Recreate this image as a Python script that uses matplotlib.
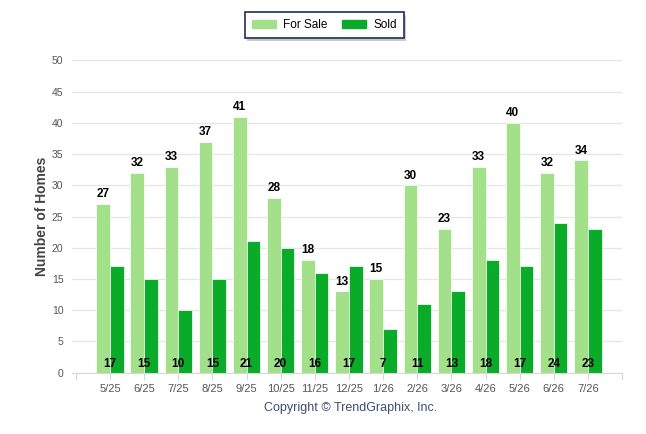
import matplotlib.pyplot as plt
from matplotlib.patches import Patch, Rectangle

plt.rcParams["font.family"] = ["Liberation Sans", "DejaVu Sans"]

# Monthly home counts
months = ["5/25", "6/25", "7/25", "8/25", "9/25", "10/25", "11/25", "12/25",
          "1/26", "2/26", "3/26", "4/26", "5/26", "6/26", "7/26"]
for_sale = [27, 32, 33, 37, 41, 28, 18, 13, 15, 30, 23, 33, 40, 32, 34]
sold = [17, 15, 10, 15, 21, 20, 16, 17, 7, 11, 13, 18, 17, 24, 23]

light = "#a2e08a"
dark = "#0aab28"

fig = plt.figure(figsize=(6.46, 4.34), dpi=100)
ax = fig.add_axes([0.111, 0.1417, 0.852, 0.7189])

x = list(range(len(months)))
w = 0.4
ax.bar([i - w / 2 for i in x], for_sale, width=w, color=light,
       edgecolor="white", linewidth=0.5, zorder=2)
ax.bar([i + w / 2 for i in x], sold, width=w, color=dark,
       edgecolor="white", linewidth=0.5, zorder=2)

for i in x:
    ax.text(i - w / 2, for_sale[i] + 0.6, str(for_sale[i]), ha="center",
            va="bottom", fontsize=8.5, fontweight="bold", color="black", zorder=3)
    ax.text(i, 1.4, str(sold[i]), ha="center", va="center", fontsize=8.5,
            fontweight="bold", color="black", zorder=3)

ax.set_xlim(-1.12, 15)
ax.set_ylim(0, 50)
ax.set_yticks(range(0, 51, 5))
ax.set_xticks(range(-1, 16))
ax.set_xticklabels([""] + months + [""])
ax.tick_params(axis="x", length=5, color="#d8d8d8", labelsize=8,
               labelcolor="#555555", pad=3)
ax.tick_params(axis="y", length=0, labelsize=7.5, labelcolor="#555555", pad=6)
ax.yaxis.grid(True, color="#e6e6e6", linewidth=1, zorder=0)
ax.set_axisbelow(True)
for s in ["top", "right", "left"]:
    ax.spines[s].set_visible(False)
ax.spines["bottom"].set_color("#d8d8d8")

ax.set_ylabel("Number of Homes", fontsize=10, fontweight="bold",
              color="#444444", labelpad=2)

handles = [Patch(color=light, label="For Sale"), Patch(color=dark, label="Sold")]
leg = fig.legend(handles=handles, loc="center", bbox_to_anchor=(0.502, 0.942),
                 ncol=2, frameon=True, fontsize=8.5, fancybox=False,
                 handlelength=2.0, handleheight=0.7, columnspacing=1.3,
                 borderpad=0.6, handletextpad=0.6, framealpha=1,
                 borderaxespad=0)
leg.set_zorder(5)
frame = leg.get_frame()
frame.set_facecolor("white")
frame.set_edgecolor("#1f2d5c")
frame.set_linewidth(1.2)

# drop shadow behind the legend box
fig.canvas.draw()
bb = leg.get_window_extent().transformed(fig.transFigure.inverted())
dx, dy = 2.5 / fig.bbox.width, 2.5 / fig.bbox.height
shadow = Rectangle((bb.x0 + dx, bb.y0 - dy), bb.width, bb.height,
                   transform=fig.transFigure, facecolor="#999999",
                   alpha=0.5, edgecolor="none", zorder=4)
fig.add_artist(shadow)

fig.text(0.542, 0.06, "Copyright \u00a9 TrendGraphix, Inc.", ha="center",
         va="center", fontsize=9, color="#3b4f6b")

fig.savefig("out.png", dpi=100)
